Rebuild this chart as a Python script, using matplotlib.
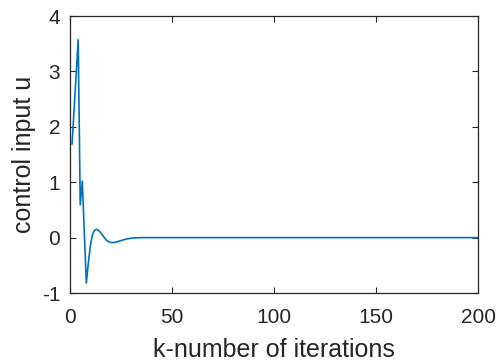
import numpy as np
import matplotlib.pyplot as plt

# iteration index and control input
k = np.arange(1, 201)
u_start = [1.69, 2.32, 2.95, 3.57, 0.59, 1.02, 0.08, -0.82, -0.45, -0.14,
           0.05, 0.13, 0.15, 0.13, 0.09, 0.04, -0.01, -0.05, -0.075, -0.088,
           -0.09, -0.086, -0.077, -0.065, -0.053, -0.042, -0.032, -0.023, -0.016, -0.011,
           -0.007, -0.004, -0.002, -0.001]
u = np.zeros(len(k))
u[:len(u_start)] = u_start

plt.rcParams['font.family'] = ['Liberation Sans', 'DejaVu Sans']
plt.rcParams['axes.unicode_minus'] = False
fig = plt.figure(figsize=(4.98, 3.62), dpi=100)
ax = fig.add_axes([0.1406, 0.1906, 0.8194, 0.7652])
ax.plot(k, u, color='#0072BD', lw=1.2)

ax.set_xlim(0, 200)
ax.set_ylim(-1, 4)
ax.set_xticks([0, 50, 100, 150, 200])
ax.set_yticks([-1, 0, 1, 2, 3, 4])
ax.tick_params(direction='in', top=True, right=True, labelsize=15,
               colors='#262626', length=4, width=0.8, pad=7)
ax.tick_params(axis='x', pad=11)
for s in ax.spines.values():
    s.set_color('#262626')
    s.set_linewidth(0.9)

ax.set_xlabel('k-number of iterations', fontsize=18, color='#262626', labelpad=8)
ax.set_ylabel('control input u', fontsize=18, color='#262626', labelpad=4)

plt.savefig('out.png')
